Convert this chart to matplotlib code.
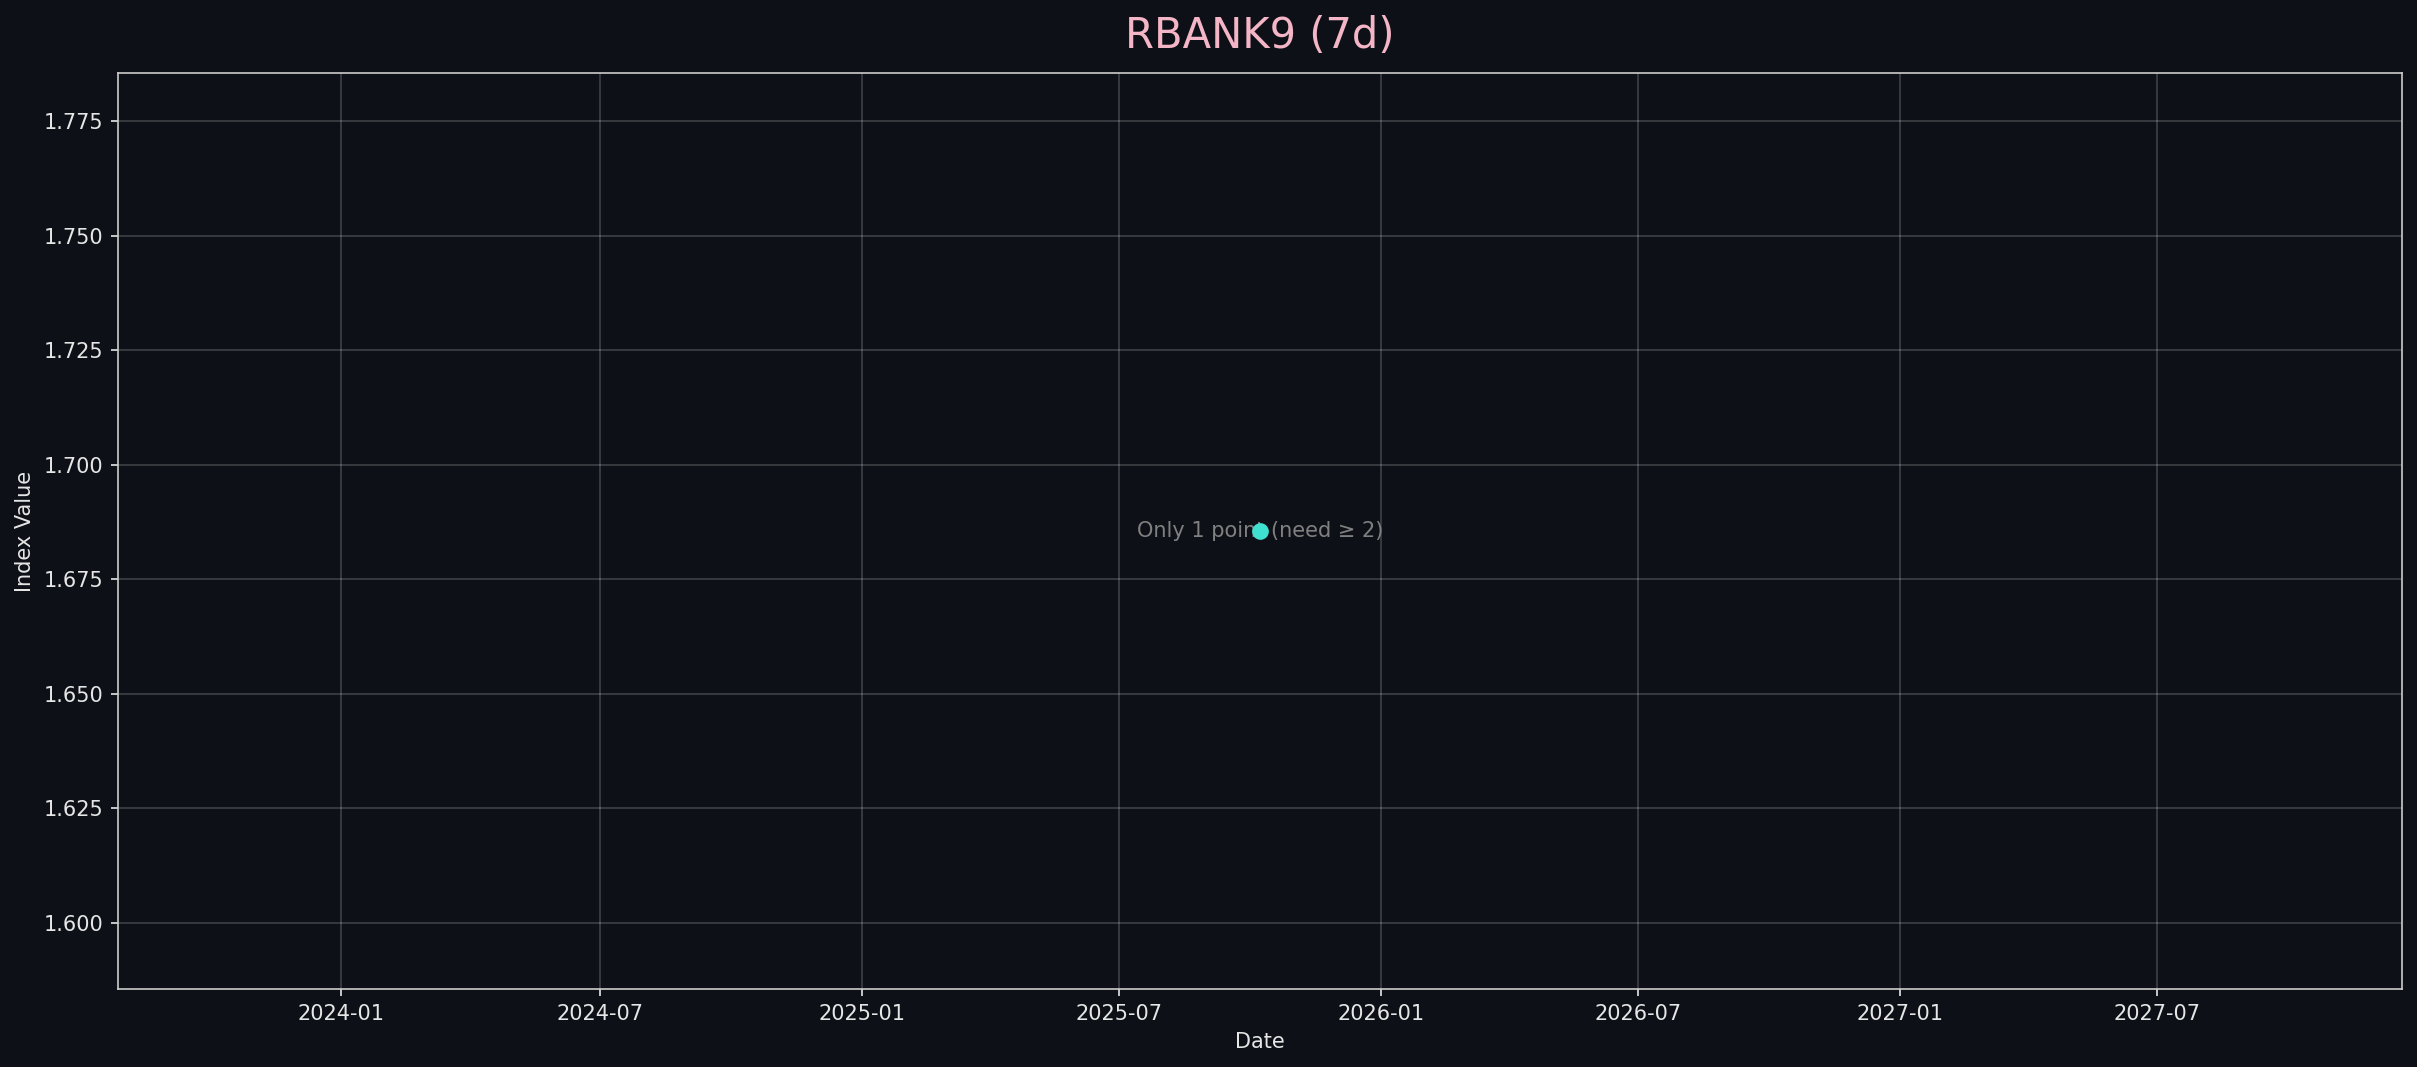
import matplotlib
matplotlib.use("Agg")
import matplotlib.pyplot as plt
import matplotlib.dates as mdates
import numpy as np
import pandas as pd

BG = "#0d1117"
FG = "#e6e6e6"

dates = pd.to_datetime(["2025-10-08"])
values = [1.6855]
title = "RBANK9 (7d)"
note = "Only 1 point (need \u2265 2)"

fig, ax = plt.subplots(figsize=(2417 / 150, 1067 / 150), dpi=150)
fig.patch.set_facecolor(BG)
ax.set_facecolor(BG)
fig.subplots_adjust(left=0.0488, right=0.9938, top=0.9316, bottom=0.0731)

ax.plot(dates, values, "o", color="#40e0d0", markersize=7, zorder=4)
ax.text(dates[0], values[0], note, color="#808080", fontsize=10,
        ha="center", va="center", zorder=3)
ax.set_ylim(values[0] - 0.1, values[0] + 0.1)

ax.xaxis.set_major_formatter(mdates.DateFormatter("%Y-%m"))
ax.set_title(title, color="#f4b6c6", fontsize=20, pad=12)
ax.set_xlabel("Date", color=FG, fontsize=10)
ax.set_ylabel("Index Value", color=FG, fontsize=10)
ax.tick_params(colors=FG, labelsize=10)
for spine in ax.spines.values():
    spine.set_color("#cccccc")
ax.grid(True, color="white", alpha=0.2, linewidth=0.8)

fig.savefig("out.png", dpi=150, facecolor=BG)
